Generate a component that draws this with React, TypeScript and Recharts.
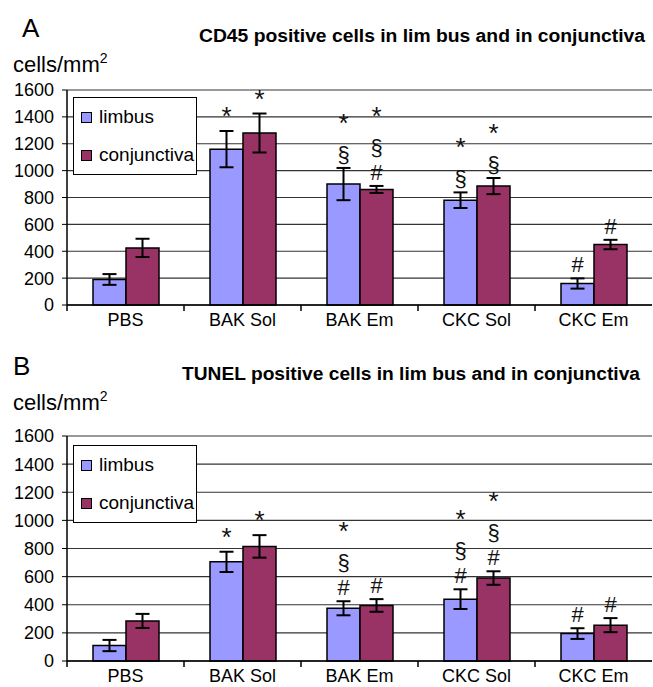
import React from 'react';
import {
  BarChart,
  Bar,
  XAxis,
  YAxis,
  CartesianGrid,
  ErrorBar,
  LabelList,
  Legend,
  ReferenceLine,
} from 'recharts';

const categories = ['PBS', 'BAK Sol', 'BAK Em', 'CKC Sol', 'CKC Em'];
const yTicks = [0, 200, 400, 600, 800, 1000, 1200, 1400, 1600];

// panel A - CD45
const cd45Limbus = [190, 1160, 900, 780, 160];
const cd45LimbusErr = [40, 135, 120, 58, 38];
const cd45Conj = [425, 1280, 860, 885, 450];
const cd45ConjErr = [68, 145, 26, 60, 35];
const cd45LimbusMarks = ['', '*', '*§', '*§', '#'];
const cd45ConjMarks = ['', '*', '*§#', '*§', '#'];

// panel B - TUNEL
const tunelLimbus = [110, 705, 375, 440, 195];
const tunelLimbusErr = [40, 72, 50, 70, 38];
const tunelConj = [285, 815, 395, 590, 255];
const tunelConjErr = [50, 80, 45, 48, 50];
const tunelLimbusMarks = ['', '*', '*§#', '*§#', '#'];
const tunelConjMarks = ['', '*', '#', '*§#', '#'];

const LIMBUS = '#9999ff';
const CONJ = '#993366';
const FONT = '"Liberation Sans", Arial, sans-serif';
const BAND = 117;

const buildRows = (lim, limErr, conj, conjErr) =>
  categories.map((name, i) => ({
    name,
    limbus: lim[i],
    limbusErr: limErr[i],
    conjunctiva: conj[i],
    conjunctivaErr: conjErr[i],
  }));

const cd45Data = buildRows(cd45Limbus, cd45LimbusErr, cd45Conj, cd45ConjErr);
const tunelData = buildRows(tunelLimbus, tunelLimbusErr, tunelConj, tunelConjErr);

// stacked significance symbols drawn above the error bar, bottom symbol first
const makeMarks = (values: number[], errs: number[], marks: string[]) => (props: any) => {
  const { x, y, width, height, index } = props;
  const v = values[index];
  const m = marks[index];
  if (!m || !v) return null;
  const perUnit = Number(height) / v;
  const errTop = Number(y) - errs[index] * perUnit;
  const cx = Number(x) + Number(width) / 2;
  const chars = m.split('').reverse();
  let base = errTop - 6;
  const items = chars.map((c, i) => {
    if (i > 0) base -= c === '*' ? 30 : 25;
    return { c, y: base };
  });
  return (
    <g>
      {items.map((it, i) => (
        <text
          key={i}
          x={cx}
          y={it.y}
          textAnchor="middle"
          fontFamily={FONT}
          fill="#111"
          fontSize={it.c === '*' ? 26 : 22}
        >
          {it.c}
        </text>
      ))}
    </g>
  );
};

const XTick = (props: any) => {
  const { x, y, payload } = props;
  return (
    <g>
      <line x1={x - BAND / 2} x2={x - BAND / 2} y1={y - 8} y2={y - 2} stroke="#000" strokeWidth={1.5} />
      <text x={x} y={y} dy="0.71em" textAnchor="middle" fontSize={18} fontFamily={FONT} fill="#000">
        {payload.value}
      </text>
    </g>
  );
};

const LegendBox = () => (
  <div
    style={{
      width: 124,
      height: 78,
      boxSizing: 'border-box',
      border: '1px solid #000',
      background: '#fff',
      fontFamily: FONT,
      fontSize: 19,
      color: '#000',
    }}
  >
    {[
      ['limbus', LIMBUS],
      ['conjunctiva', CONJ],
    ].map(([label, color]) => (
      <div key={label} style={{ height: 38, display: 'flex', alignItems: 'center', paddingLeft: 7 }}>
        <span
          style={{
            width: 9,
            height: 9,
            border: '1px solid #000',
            background: color,
            marginRight: 7,
            display: 'inline-block',
          }}
        />
        <span>{label}</span>
      </div>
    ))}
  </div>
);

const Panel = ({ data, height, marginBottom, xHeight, legendTop, lim, limErr, limMarks, conj, conjErr, conjMarks }) => (
  <BarChart
    width={653}
    height={height}
    data={data}
    margin={{ top: 10, right: 1, left: 0, bottom: marginBottom }}
    barSize={33}
    barGap={0}
  >
    <CartesianGrid vertical={false} stroke="#333" strokeWidth={1.2} />
    <ReferenceLine y={1600} stroke="#999" strokeWidth={2} />
    <XAxis
      dataKey="name"
      height={xHeight}
      tick={<XTick />}
      tickLine={false}
      axisLine={{ stroke: '#000', strokeWidth: 1.5 }}
      interval={0}
    />
    <YAxis
      width={67}
      domain={[0, 1600]}
      ticks={yTicks}
      interval={0}
      tickSize={5}
      tickMargin={8}
      tick={{ fontSize: 18, fill: '#000', fontFamily: FONT }}
      tickLine={{ stroke: '#000' }}
      axisLine={{ stroke: '#000', strokeWidth: 1.5 }}
    />
    <Legend
      layout="vertical"
      align="center"
      verticalAlign="middle"
      content={<LegendBox />}
      wrapperStyle={{ top: legendTop, left: 73, width: 124, height: 78 }}
    />
    <Bar dataKey="limbus" fill={LIMBUS} stroke="#000" strokeWidth={1.5} isAnimationActive={false}>
      <ErrorBar dataKey="limbusErr" width={7} stroke="#000" strokeWidth={2} />
      <LabelList dataKey="limbus" content={makeMarks(lim, limErr, limMarks)} />
    </Bar>
    <Bar dataKey="conjunctiva" fill={CONJ} stroke="#000" strokeWidth={1.5} isAnimationActive={false}>
      <ErrorBar dataKey="conjunctivaErr" width={7} stroke="#000" strokeWidth={2} />
      <LabelList dataKey="conjunctiva" content={makeMarks(conj, conjErr, conjMarks)} />
    </Bar>
  </BarChart>
);

const Header = ({ top, letter, title, titleX, titleW }) => (
  <svg width={653} height={80} style={{ position: 'absolute', left: 0, top }}>
    <text x={letter === 'A' ? 22 : 13} y={37} fontSize={26} fontFamily={FONT} fill="#000">
      {letter}
    </text>
    <text
      x={titleX}
      y={42}
      fontSize={18}
      fontWeight="bold"
      fontFamily={FONT}
      fill="#000"
      textLength={titleW}
      lengthAdjust="spacingAndGlyphs"
    >
      {title}
    </text>
    <text x={13} y={72} fontSize={22} fontFamily={FONT} fill="#000">
      cells/mm<tspan fontSize={14} dy={-9}>2</tspan>
    </text>
  </svg>
);

export default function App() {
  return (
    <div
      style={{
        position: 'absolute',
        left: 0,
        top: 0,
        width: 653,
        height: 687,
        background: '#fff',
        fontFamily: FONT,
        overflow: 'hidden',
      }}
    >
      <Header top={0} letter="A" title="CD45 positive cells in lim bus and in conjunctiva" titleX={199} titleW={446} />
      <Header top={338} letter="B" title="TUNEL positive cells in lim bus and in conjunctiva" titleX={182} titleW={458} />
      <div style={{ position: 'absolute', left: 0, top: 80 }}>
        <Panel
          data={cd45Data}
          height={260}
          marginBottom={5}
          xHeight={30}
          legendTop={17}
          lim={cd45Limbus}
          limErr={cd45LimbusErr}
          limMarks={cd45LimbusMarks}
          conj={cd45Conj}
          conjErr={cd45ConjErr}
          conjMarks={cd45ConjMarks}
        />
      </div>
      <div style={{ position: 'absolute', left: 0, top: 426 }}>
        <Panel
          data={tunelData}
          height={261}
          marginBottom={0}
          xHeight={26}
          legendTop={19}
          lim={tunelLimbus}
          limErr={tunelLimbusErr}
          limMarks={tunelLimbusMarks}
          conj={tunelConj}
          conjErr={tunelConjErr}
          conjMarks={tunelConjMarks}
        />
      </div>
    </div>
  );
}
